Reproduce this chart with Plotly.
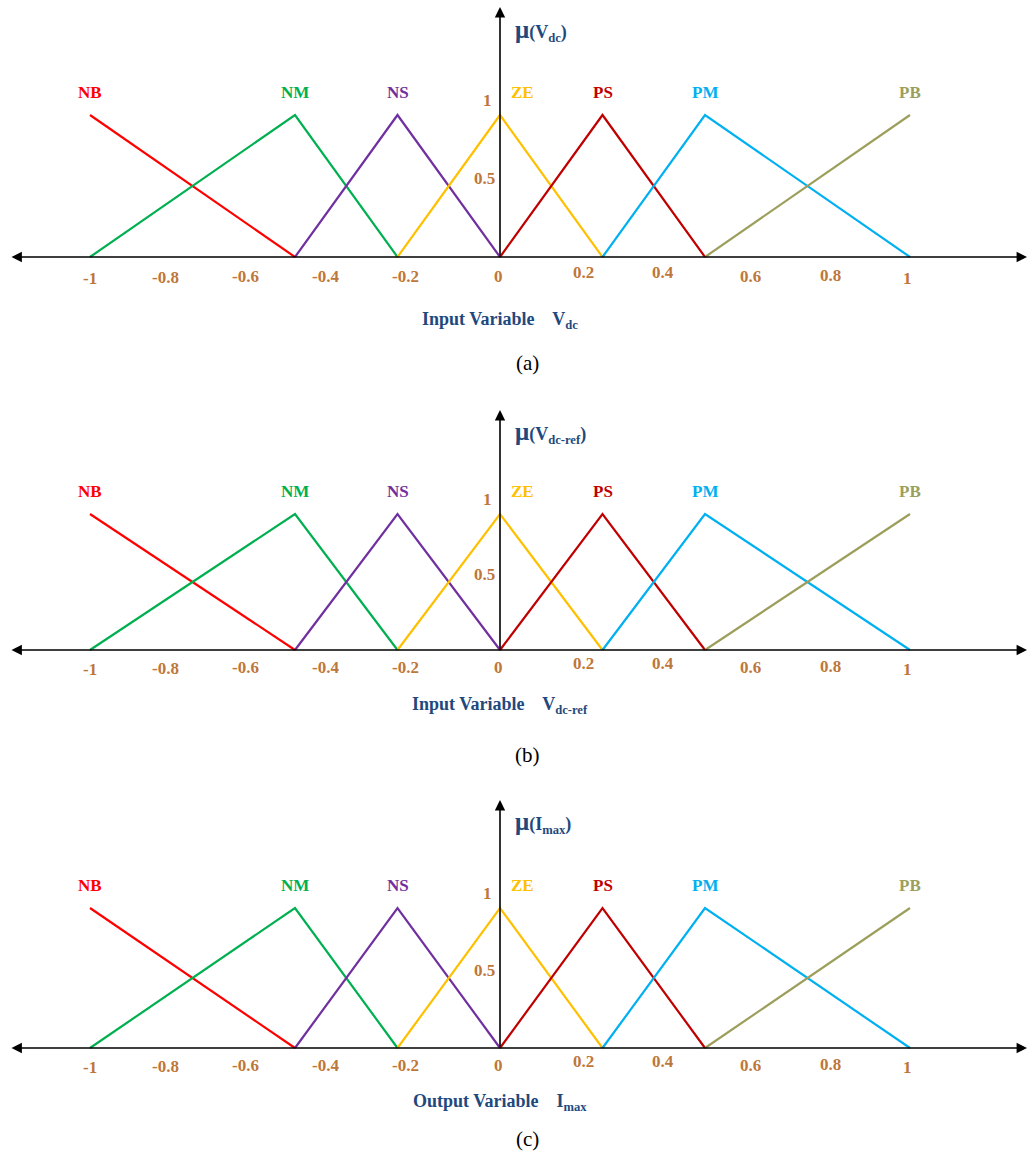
import plotly.graph_objects as go

# ---------------- data ----------------
set_names = ["NB", "NM", "NS", "ZE", "PS", "PM", "PB"]
NB_x = [-1, -0.5];            NB_y = [1, 0]
NM_x = [-1, -0.5, -0.25];     NM_y = [0, 1, 0]
NS_x = [-0.5, -0.25, 0];      NS_y = [0, 1, 0]
ZE_x = [-0.25, 0, 0.25];      ZE_y = [0, 1, 0]
PS_x = [0, 0.25, 0.5];        PS_y = [0, 1, 0]
PM_x = [0.25, 0.5, 1];        PM_y = [0, 1, 0]
PB_x = [0.5, 1];              PB_y = [0, 1]
set_x = [NB_x, NM_x, NS_x, ZE_x, PS_x, PM_x, PB_x]
set_y = [NB_y, NM_y, NS_y, ZE_y, PS_y, PM_y, PB_y]
set_peaks = [-1, -0.5, -0.25, 0, 0.25, 0.5, 1]

tick_vals = [-1, -0.8, -0.6, -0.4, -0.2, 0, 0.2, 0.4, 0.6, 0.8, 1]
tick_text = ["-1", "-0.8", "-0.6", "-0.4", "-0.2", "0", "0.2", "0.4", "0.6", "0.8", "1"]
mu_ticks = [1, 0.5]
mu_tick_text = ["1", "0.5"]

mu_labels = ["μ(V<sub>dc</sub>)", "μ(V<sub>dc-ref</sub>)", "μ(I<sub>max</sub>)"]
var_labels = ["Input Variable    V<sub>dc</sub>",
              "Input Variable    V<sub>dc-ref</sub>",
              "Output Variable    I<sub>max</sub>"]
panel_tags = ["(a)", "(b)", "(c)"]

# ---------------- styles ----------------
colors = ["#FF0000", "#00B050", "#7030A0", "#FFC000", "#C00000", "#00B0F0", "#9C9F5C"]
tick_color = "#BE773A"
title_color = "#1F497D"
FONT = "'Liberation Serif', 'Times New Roman', 'DejaVu Serif', serif"

W, H = 1028, 1154
# pixel layout of each panel
panels = [
    dict(top=0, bottom=385, base=257, peak=115, arrow=7, mu_y=30, var_dy=63, tag_dy=106, tick_dy=0),
    dict(top=385, bottom=775, base=650, peak=514, arrow=410, mu_y=432, var_dy=55, tag_dy=105, tick_dy=-2),
    dict(top=775, bottom=1154, base=1048, peak=908, arrow=800, mu_y=822, var_dy=54, tag_dy=91, tick_dy=-2),
]
# x mapping: value 0 at px 500, 410 px per unit
x0_px, x_scale = 500, 410
x_range = [(0 - x0_px) / x_scale, (W - x0_px) / x_scale]
x_left_arrow = (10 - x0_px) / x_scale
x_right_arrow = (W - 1 - x0_px) / x_scale

tick_xshift = [0, -7, -9, -11, -13, -2, 1, -1, 4, 2, -3]
tick_yoff = [21, 20, 19, 19, 19, 19, 15, 15, 19, 18, 21]
label_xshift = [0, 0, 0, 22, 0, 0, 0]

fig = go.Figure()
annotations = []
layout_axes = {}

for i, p in enumerate(panels):
    k = "" if i == 0 else str(i + 1)
    xa, ya = "x" + k, "y" + k
    scale = p["base"] - p["peak"]
    y_top = (p["base"] - p["top"]) / scale
    y_bot = (p["base"] - p["bottom"]) / scale
    layout_axes["xaxis" + k] = dict(range=x_range, domain=[0, 1], visible=False,
                                    anchor=ya, fixedrange=True)
    layout_axes["yaxis" + k] = dict(range=[y_bot, y_top],
                                    domain=[1 - p["bottom"] / H, 1 - p["top"] / H],
                                    visible=False, anchor=xa, fixedrange=True)

    for name, xs, ys, c in zip(set_names, set_x, set_y, colors):
        fig.add_trace(go.Scatter(x=xs, y=ys, mode="lines", line=dict(color=c, width=2.2),
                                 xaxis=xa, yaxis=ya, showlegend=False, hoverinfo="skip"))

    # horizontal axis with arrows at both ends
    annotations.append(dict(x=x_right_arrow, y=0, ax=x_left_arrow, ay=0, xref=xa, yref=ya,
                            axref=xa, ayref=ya, text="", showarrow=True,
                            arrowhead=2, startarrowhead=2, arrowside="end+start",
                            arrowsize=1.3, startarrowsize=1.3, arrowwidth=1.6,
                            arrowcolor="black"))
    # vertical axis
    y_arrow = (p["base"] - p["arrow"]) / scale
    annotations.append(dict(x=0, y=y_arrow, ax=0, ay=0, xref=xa, yref=ya, axref=xa, ayref=ya,
                            text="", showarrow=True, arrowhead=2, arrowsize=1.3,
                            arrowwidth=1.6, arrowcolor="black"))
    # mu label
    annotations.append(dict(x=0, y=(p["base"] - p["mu_y"]) / scale, xref=xa, yref=ya,
                            xanchor="left", yanchor="middle", xshift=13, showarrow=False,
                            text="<b>" + mu_labels[i].replace("μ", "<span style='font-size:25px'>μ</span>") + "</b>",
                            font=dict(family=FONT, size=18, color=title_color)))
    # set labels
    for name, px, c, dx in zip(set_names, set_peaks, colors, label_xshift):
        annotations.append(dict(x=px, y=1, xref=xa, yref=ya, text="<b>%s</b>" % name,
                                showarrow=False, yshift=23, xshift=dx, yanchor="middle",
                                font=dict(family=FONT, size=17, color=c)))
    # x tick labels
    for v, t, dx, dy in zip(tick_vals, tick_text, tick_xshift, tick_yoff):
        annotations.append(dict(x=v, y=0, xref=xa, yref=ya, text="<b>%s</b>" % t,
                                showarrow=False, xshift=dx, yshift=-(dy + p["tick_dy"]),
                                yanchor="middle",
                                font=dict(family=FONT, size=17, color=tick_color)))
    # mu tick labels
    for v, t, dx, dy in zip(mu_ticks, mu_tick_text, [-13, -16], [15, 8]):
        annotations.append(dict(x=0, y=v, xref=xa, yref=ya, text="<b>%s</b>" % t,
                                showarrow=False, xshift=dx, yshift=dy, yanchor="middle",
                                font=dict(family=FONT, size=17, color=tick_color)))
    # variable label
    annotations.append(dict(x=0, y=0, xref=xa, yref=ya,
                            text="<b>%s</b>" % var_labels[i], showarrow=False,
                            yshift=-p["var_dy"], yanchor="middle",
                            font=dict(family=FONT, size=18, color=title_color)))
    # panel tag
    annotations.append(dict(x=0.066, y=0, xref=xa, yref=ya, text=panel_tags[i],
                            showarrow=False, yshift=-p["tag_dy"], yanchor="middle",
                            font=dict(family=FONT, size=21, color="black")))

fig.update_layout(width=W, height=H, autosize=False,
                  margin=dict(l=0, r=0, t=0, b=0),
                  paper_bgcolor="white", plot_bgcolor="white",
                  annotations=annotations, **layout_axes)
fig.write_html("out.html", config={"displayModeBar": False},
               post_script="document.body.style.margin='0';document.body.style.overflow='hidden';")
